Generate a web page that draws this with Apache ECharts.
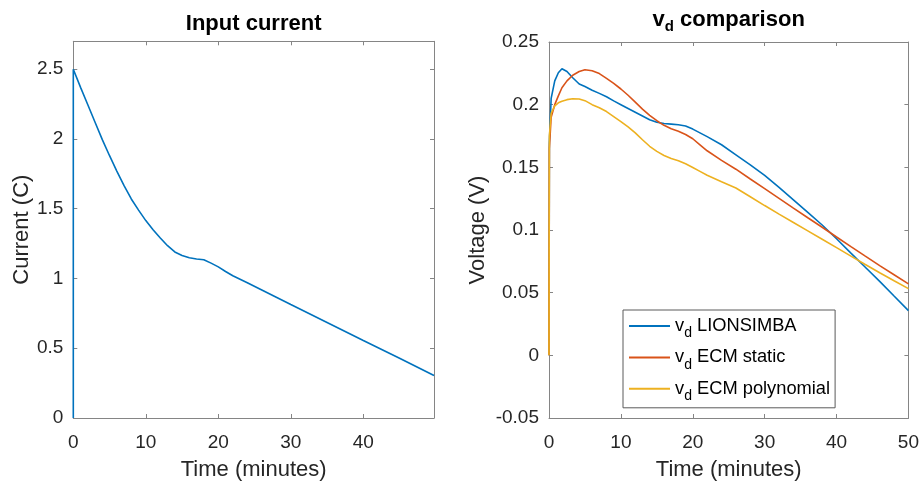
<!DOCTYPE html>
<html>
<head>
<meta charset="utf-8">
<title>Input current and v_d comparison</title>
<script src="https://cdn.jsdelivr.net/npm/echarts@6/dist/echarts.min.js"></script>
<style>
  html, body { margin: 0; padding: 0; background: #fff; }
  #chart { width: 922px; height: 486px; }
</style>
</head>
<body>
<div id="chart"></div>
<script>
// Input current profile (C-rate) over time in minutes
const currentTime = [0, 0, 1, 2, 3, 4, 5, 6, 7, 8, 9, 10, 11, 12, 13, 14, 15, 16, 17, 18, 19, 20, 21, 22, 24, 26, 28, 30, 35, 40, 45, 49.75];
const currentValue = [0, 2.5, 2.37, 2.245, 2.12, 1.995, 1.88, 1.77, 1.665, 1.57, 1.49, 1.415, 1.35, 1.29, 1.235, 1.19, 1.165, 1.148, 1.14, 1.134, 1.11, 1.083, 1.05, 1.02, 0.97, 0.918, 0.866, 0.814, 0.685, 0.556, 0.428, 0.305];

// Diffusion voltage v_d (V), shared time base in minutes
const vdTime = [0, 0.05, 0.3, 0.8, 1.3, 1.8, 2.5, 3.3, 4.2, 5, 6, 7, 8, 9, 10, 11, 12, 13, 14, 15, 16, 17, 18, 19, 20, 21, 22, 24, 26, 28, 30, 32, 34, 36, 38, 40, 42, 44, 46, 48, 50];
const vdLionsimba = [0, 0.17, 0.205, 0.219, 0.2255, 0.2287, 0.2265, 0.2215, 0.2165, 0.2145, 0.2115, 0.209, 0.2063, 0.203, 0.2, 0.197, 0.194, 0.191, 0.188, 0.186, 0.185, 0.1845, 0.184, 0.183, 0.1805, 0.1775, 0.1745, 0.168, 0.16, 0.152, 0.1435, 0.134, 0.124, 0.114, 0.104, 0.093, 0.0815, 0.0703, 0.059, 0.0473, 0.0357];
const vdEcmStatic = [0, 0.165, 0.19, 0.2, 0.207, 0.2135, 0.219, 0.2235, 0.2265, 0.2279, 0.227, 0.2248, 0.221, 0.217, 0.2125, 0.2075, 0.202, 0.1965, 0.1915, 0.1872, 0.1835, 0.1808, 0.1788, 0.1762, 0.1728, 0.168, 0.1632, 0.1556, 0.1485, 0.1407, 0.133, 0.1253, 0.1175, 0.1098, 0.1022, 0.0944, 0.0867, 0.0791, 0.0716, 0.0643, 0.057];
const vdEcmPolynomial = [0, 0.175, 0.193, 0.199, 0.2015, 0.2028, 0.204, 0.2047, 0.2045, 0.2032, 0.2, 0.1975, 0.1945, 0.1905, 0.1865, 0.1822, 0.1775, 0.172, 0.1668, 0.1627, 0.1595, 0.157, 0.1553, 0.1528, 0.1499, 0.1468, 0.1437, 0.1385, 0.1335, 0.1265, 0.1195, 0.1127, 0.106, 0.0993, 0.0926, 0.0859, 0.0792, 0.0725, 0.0659, 0.0595, 0.0532];

const seriesNames = ['LIONSIMBA', 'ECM static', 'ECM polynomial'];
const seriesColors = ['#0072BD', '#D95319', '#EDB120'];

const FONT = "'Liberation Sans', Arial, Helvetica, sans-serif";
const AXIS_GRAY = '#858585';
const TEXT = '#262626';

function pairs(xs, ys) { return xs.map((x, i) => [x, ys[i]]); }

const grids = [
  { left: 73.3, top: 41.3, width: 360.7, height: 380.7 },
  { left: 549, top: 41.3, width: 360.3, height: 380.7 }
];

const baseLine = { show: true, onZero: false, lineStyle: { color: AXIS_GRAY, width: 1 } };
const baseTick = { show: true, inside: true, length: 4, lineStyle: { color: AXIS_GRAY, width: 1 } };
const tickLabel = { color: TEXT, fontSize: 19, fontFamily: FONT };
const axisNameStyle = { color: TEXT, fontSize: 22, fontFamily: FONT };

// bottom x axis with labels, plus a matching bare axis on top to close the box
function xPair(gridIndex, max, showMax, titleText, titleRich, titleGap) {
  return [
    {
      type: 'value', gridIndex, position: 'bottom', min: 0, max, interval: 10, z: 0,
      axisLine: baseLine, axisTick: baseTick, splitLine: { show: false },
      axisLabel: Object.assign({ margin: 15, showMaxLabel: showMax }, tickLabel),
      name: 'Time (minutes)', nameLocation: 'middle', nameGap: 41, nameTextStyle: axisNameStyle
    },
    {
      type: 'value', gridIndex, position: 'top', min: 0, max, interval: 10, z: 0,
      axisLine: baseLine, axisTick: baseTick, axisLabel: { show: false }, splitLine: { show: false },
      name: titleText, nameLocation: 'middle', nameGap: titleGap,
      nameTextStyle: { color: '#000', fontSize: 22, fontWeight: 'bold', fontFamily: FONT, lineHeight: titleRich ? 29 : 22, rich: titleRich || {} }
    }
  ];
}

function yPair(gridIndex, min, max, interval, showMax, label, gap) {
  return [
    {
      type: 'value', gridIndex, position: 'left', min, max, interval, z: 0,
      axisLine: baseLine, axisTick: baseTick, splitLine: { show: false },
      axisLabel: Object.assign({ margin: 10, showMaxLabel: showMax }, tickLabel),
      name: label, nameLocation: 'middle', nameGap: gap, nameTextStyle: axisNameStyle
    },
    {
      type: 'value', gridIndex, position: 'right', min, max, interval, z: 0,
      axisLine: baseLine, axisTick: baseTick, axisLabel: { show: false }, splitLine: { show: false }
    }
  ];
}

const titleRich = {
  v: { fontSize: 22, fontWeight: 'bold', fontFamily: FONT, color: '#000', lineHeight: 29 },
  d: { fontSize: 15, fontWeight: 'bold', fontFamily: FONT, color: '#000', lineHeight: 10, verticalAlign: 'bottom' },
  t: { fontSize: 22, fontWeight: 'bold', fontFamily: FONT, color: '#000', lineHeight: 29 }
};

const legendRich = {
  v: { fontSize: 18.3, fontFamily: FONT, color: '#000', lineHeight: 29 },
  d: { fontSize: 14, fontFamily: FONT, color: '#000', lineHeight: 10, verticalAlign: 'bottom' },
  t: { fontSize: 18.3, fontFamily: FONT, color: '#000', lineHeight: 29 }
};

const lineSeries = (name, data, color, xi, yi) => ({
  name, type: 'line', data, xAxisIndex: xi, yAxisIndex: yi, z: 10,
  symbol: 'none', showSymbol: false, smooth: false, clip: false, animation: false,
  lineStyle: { color, width: 1.6 }, itemStyle: { color }
});

const option = {
  backgroundColor: '#ffffff',
  animation: false,
  grid: grids,
  xAxis: [
    ...xPair(0, 49.75, false, 'Input current', null, 6),
    ...xPair(1, 50, true, '{v|v}{d|d}{t| comparison}', titleRich, 8)
  ],
  yAxis: [
    ...yPair(0, 0, 2.7, 0.5, false, 'Current (C)', 40),
    ...yPair(1, -0.05, 0.25, 0.05, true, 'Voltage (V)', 60)
  ],
  legend: {
    orient: 'vertical', left: 623, top: 310, z: 20,
    padding: [7, 5, 4.5, 6], itemGap: 7.9,
    itemWidth: 41, itemHeight: 2, icon: 'rect',
    borderColor: '#5a5a5a', borderWidth: 1, backgroundColor: '#fff',
    data: seriesNames,
    formatter: name => '{v|v}{d|d}{t| ' + name + '}',
    textStyle: { fontSize: 18.3, fontFamily: FONT, color: '#000', rich: legendRich }
  },
  series: [
    lineSeries('Input current', pairs(currentTime, currentValue), seriesColors[0], 0, 0),
    lineSeries(seriesNames[0], pairs(vdTime, vdLionsimba), seriesColors[0], 2, 2),
    lineSeries(seriesNames[1], pairs(vdTime, vdEcmStatic), seriesColors[1], 2, 2),
    lineSeries(seriesNames[2], pairs(vdTime, vdEcmPolynomial), seriesColors[2], 2, 2)
  ]
};

const chart = echarts.init(document.getElementById('chart'), null, { renderer: 'canvas' });
chart.setOption(option);
</script>
</body>
</html>
